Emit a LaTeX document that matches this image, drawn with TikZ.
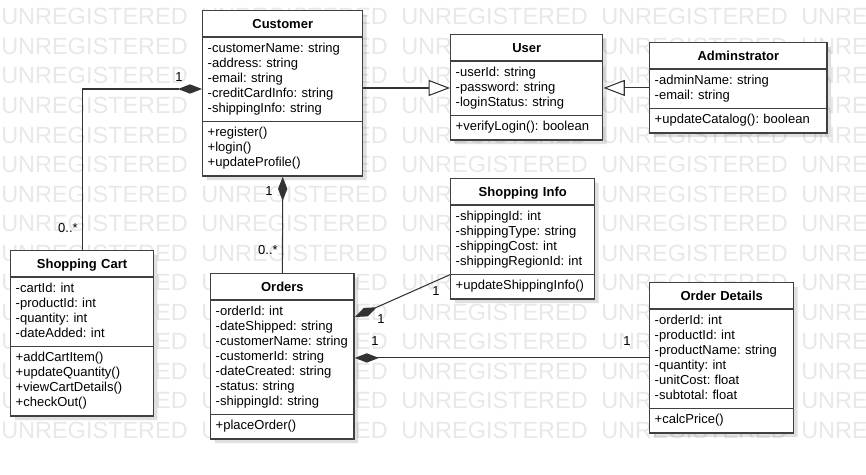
\documentclass[tikz,border=0pt]{standalone}
\usepackage{fontspec}
\setmainfont{Liberation Sans}
\usetikzlibrary{positioning,shapes.multipart,arrows.meta,shadows}
\setlength\parindent{0pt}
\frenchspacing

\newcommand\umltitle[1]{{\centering\bfseries\rule[-3pt]{0pt}{12.75pt}#1\par}}

\begin{document}
\begin{tikzpicture}[x=0.75pt, y=-0.75pt,
    font=\fontsize{9.75}{11.25}\selectfont,
    umlclass/.style={rectangle split, rectangle split parts=3, draw=black!75,
        line width=1.1pt, fill=white, text width=#1, inner xsep=3.75pt,
        inner ysep=3pt, anchor=north west, align=left,
        drop shadow={shadow xshift=3pt, shadow yshift=-3pt, opacity=.12, fill=black}},
    link/.style={draw=black!80, line width=0.8pt},
    comp/.style={link, -{Diamond[length=18pt, width=7pt]}},
    inherit/.style={link, -{Triangle[length=16pt, width=12pt, fill=white]}},
    mult/.style={inner sep=0pt},
    wmark/.style={anchor=base west, inner sep=0pt, text=black!9,
        font=\fontsize{17.6}{20}\selectfont}]
    \useasboundingbox (0,0) rectangle (866,474);

    % watermark
    \begin{scope}
        \clip (0,0) rectangle (866,474);
        \foreach \r in {0,...,14}
            \foreach \c in {0,...,4}
                \node[wmark] (w\r-\c) at (1+200*\c, 25+29.5*\r) {UNREGISTERED};
    \end{scope}

    % classes
    \node[umlclass=112.5pt] (cust) at (202,10) {\umltitle{Customer}
        \nodepart{two}\strut-customerName: string\\-address: string\\-email: string\\-creditCardInfo: string\\-shippingInfo: string\strut
        \nodepart{three}\strut+register()\\+login()\\+updateProfile()\strut};
    \node[umlclass=106.5pt] (user) at (450,34) {\umltitle{User}
        \nodepart{two}\strut-userId: string\\-password: string\\-loginStatus: string\strut
        \nodepart{three}\strut+verifyLogin(): boolean\strut};
    \node[umlclass=125.5pt] (admin) at (649,42) {\umltitle{Adminstrator}
        \nodepart{two}\strut-adminName: string\\-email: string\strut
        \nodepart{three}\strut+updateCatalog(): boolean\strut};
    \node[umlclass=100.5pt] (sinfo) at (450,178) {\umltitle{Shopping Info}
        \nodepart{two}\strut-shippingId: int\\-shippingType: string\\-shippingCost: int\\-shippingRegionId: int\strut
        \nodepart{three}\strut+updateShippingInfo()\strut};
    \node[umlclass=100.5pt] (odet) at (649,282) {\umltitle{Order Details}
        \nodepart{two}\strut-orderId: int\\-productId: int\\-productName: string\\-quantity: int\\-unitCost: float\\-subtotal: float\strut
        \nodepart{three}\strut+calcPrice()\strut};
    \node[umlclass=99.5pt] (cart) at (10,250) {\umltitle{Shopping Cart}
        \nodepart{two}\strut-cartId: int\\-productId: int\\-quantity: int\\-dateAdded: int\strut
        \nodepart{three}\strut+addCartItem()\\+updateQuantity()\\+viewCartDetails()\\+checkOut()\strut};
    \node[umlclass=100pt] (orders) at (210,273) {\umltitle{Orders}
        \nodepart{two}\strut-orderId: int\\-dateShipped: string\\-customerName: string\\-customerId: string\\-dateCreated: string\\-status: string\\-shippingId: string\strut
        \nodepart{three}\strut+placeOrder()\strut};

    % associations
    \draw[comp] (cart.north) |- (cust.west |- 0,89);
    \draw[comp] (orders.north) -- (cust.south);
    \draw[inherit] (cust.east |- 0,88) -- (user.west |- 0,88);
    \draw[inherit] (admin.west) -- (admin.west -| user.east);
    \draw[comp] (sinfo.two split west) -- (orders.east |- 0,317);
    \draw[comp] (odet.west) -- (odet.west -| orders.east);

    % multiplicities
    \node[mult] (m1) at (179,77) {1};
    \node[mult] (m2) at (68,228) {0..*};
    \node[mult] (m3) at (269,191) {1};
    \node[mult] (m4) at (268,250) {0..*};
    \node[mult] (m5) at (436,291) {1};
    \node[mult] (m6) at (381,319) {1};
    \node[mult] (m7) at (375,341) {1};
    \node[mult] (m8) at (627,341) {1};
\end{tikzpicture}
\end{document}
